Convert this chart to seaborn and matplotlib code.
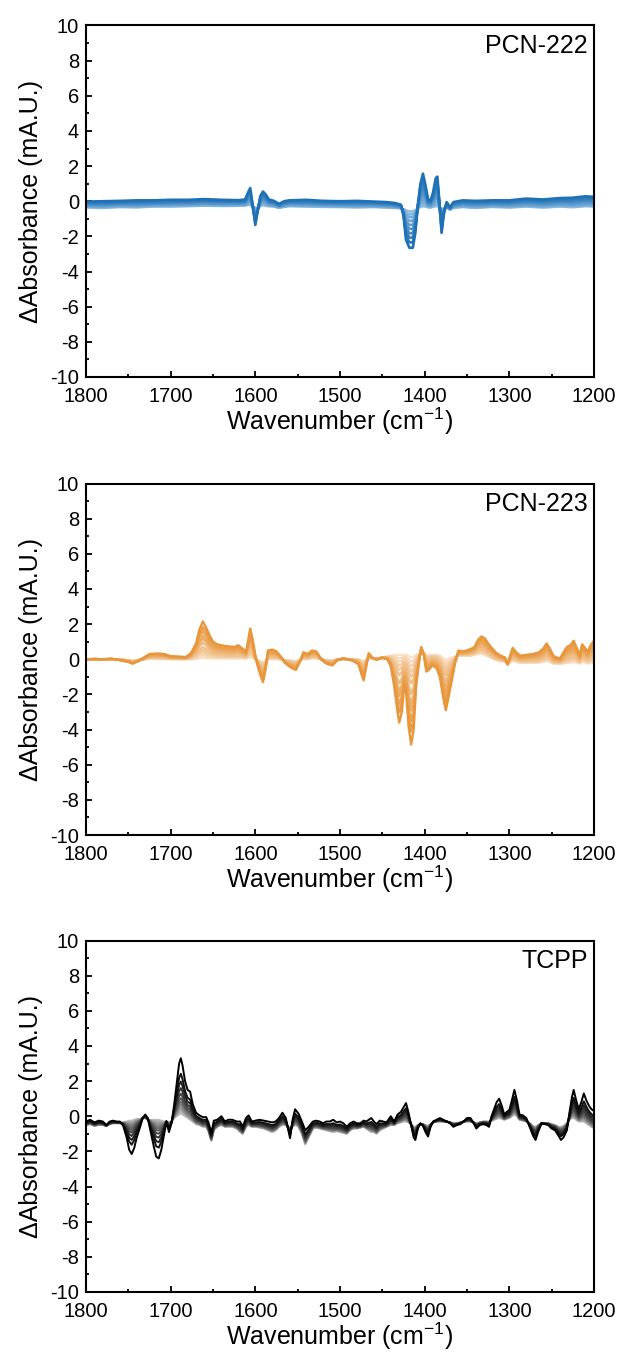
import numpy as np
import pandas as pd
import matplotlib
matplotlib.use("Agg")
import matplotlib.pyplot as plt
import seaborn as sns
from matplotlib.ticker import MultipleLocator

sns.set_theme(style="ticks")
plt.rcParams['font.family'] = ['Liberation Sans', 'DejaVu Sans']
plt.rcParams['mathtext.default'] = 'regular'
plt.rcParams['axes.unicode_minus'] = False

# ---------------- Panel 1: PCN-222 ----------------
p1_wn = [1800, 1780, 1760, 1740, 1720, 1700, 1680, 1660, 1640, 1620,
         1612, 1609, 1606, 1603, 1600, 1597, 1594, 1591, 1588, 1584,
         1578, 1572, 1566, 1560, 1540, 1520, 1500, 1480, 1460, 1445,
         1435, 1428, 1425, 1422, 1418, 1414, 1411, 1408, 1405, 1402,
         1399, 1396, 1393, 1390, 1387, 1385, 1383, 1380, 1377, 1374,
         1370, 1366, 1355, 1340, 1320, 1300, 1280, 1260, 1240, 1225,
         1210, 1200]
p1_dark = [-0.02, 0.00, 0.02, 0.05, 0.05, 0.08, 0.08, 0.12, 0.08, 0.06,
           0.10, 0.45, 0.75, -0.30, -1.35, -0.50, 0.30, 0.55, 0.40, 0.10,
           0.02, -0.15, 0.00, 0.05, 0.08, 0.02, 0.00, 0.02, -0.02, -0.05,
           -0.10, -0.20, -0.80, -2.20, -2.65, -2.65, -1.80, -0.20, 1.00, 1.57,
           0.90, 0.10, 0.05, 0.50, 1.30, 1.40, 0.20, -1.80, -0.60, -0.05,
           -0.35, -0.05, 0.05, 0.02, 0.05, 0.05, 0.15, 0.10, 0.18, 0.20,
           0.28, 0.25]
p1_light = [-0.35, -0.38, -0.33, -0.35, -0.30, -0.30, -0.28, -0.25, -0.27, -0.26,
            -0.25, -0.22, -0.20, -0.28, -0.38, -0.38, -0.28, -0.22, -0.25, -0.28,
            -0.30, -0.38, -0.32, -0.28, -0.30, -0.32, -0.33, -0.35, -0.33, -0.36,
            -0.38, -0.40, -0.45, -0.52, -0.58, -0.58, -0.50, -0.42, -0.32, -0.28,
            -0.30, -0.35, -0.36, -0.32, -0.28, -0.28, -0.32, -0.45, -0.40, -0.38,
            -0.48, -0.38, -0.33, -0.38, -0.32, -0.36, -0.30, -0.36, -0.30, -0.34,
            -0.28, -0.30]
p1_frac = [0.0, 0.08, 0.16, 0.26, 0.37, 0.48, 0.60, 0.72, 0.85, 1.0]

# ---------------- Panel 2: PCN-223 ----------------
p2_wn = [1800, 1790, 1780, 1770, 1760, 1750, 1745, 1738, 1730, 1725,
         1715, 1708, 1700, 1690, 1682, 1676, 1670, 1666, 1662, 1658,
         1654, 1650, 1645, 1635, 1625, 1620, 1615, 1611, 1608, 1606,
         1603, 1600, 1597, 1594, 1591, 1588, 1585, 1580, 1575, 1570,
         1565, 1560, 1555, 1552, 1548, 1543, 1538, 1533, 1528, 1522,
         1516, 1509, 1503, 1497, 1490, 1484, 1478, 1475, 1472, 1469,
         1466, 1462, 1457, 1450, 1444, 1440, 1436, 1432, 1430, 1427,
         1424, 1422, 1419, 1416, 1413, 1410, 1407, 1404, 1401, 1398,
         1395, 1391, 1386, 1382, 1378, 1375, 1372, 1368, 1364, 1360,
         1355, 1350, 1345, 1341, 1337, 1333, 1329, 1325, 1320, 1315,
         1310, 1305, 1302, 1299, 1296, 1292, 1287, 1280, 1272, 1265,
         1260, 1256, 1252, 1248, 1244, 1240, 1236, 1232, 1228, 1224,
         1220, 1217, 1214, 1210, 1207, 1204, 1200]
p2_dark = [0.00, 0.02, 0.00, 0.03, -0.05, -0.15, -0.25, -0.10, 0.15, 0.30,
           0.33, 0.30, 0.18, 0.15, 0.13, 0.35, 0.90, 1.70, 2.15, 1.80,
           1.35, 1.00, 0.85, 0.75, 0.70, 0.80, 0.60, 0.42, 1.20, 1.75,
           1.10, 0.20, -0.40, -0.90, -1.30, -0.60, 0.50, 0.55, 0.45, 0.15,
           -0.20, -0.40, -0.55, -0.60, -0.20, 0.40, 0.30, 0.50, 0.45, 0.00,
           -0.25, -0.35, -0.05, 0.05, 0.00, -0.10, -0.30, -0.80, -1.20, -0.40,
           0.35, 0.10, -0.03, 0.08, 0.00, -0.40, -1.50, -3.00, -3.60, -3.00,
           -1.50, -1.80, -3.80, -4.85, -4.00, -1.50, -0.30, 0.70, 0.30, -0.70,
           -0.60, -0.35, -0.50, -1.00, -2.20, -2.90, -2.20, -1.20, -0.20, 0.50,
           0.45, 0.50, 0.60, 0.70, 1.10, 1.30, 1.20, 0.90, 0.60, 0.35,
           0.20, 0.10, -0.30, 0.20, 0.65, 0.40, 0.20, 0.25, 0.30, 0.40,
           0.60, 0.90, 0.60, 0.20, 0.10, 0.05, 0.40, 0.70, 0.80, 1.05,
           0.60, 0.25, 0.85, 0.60, 0.45, 0.80, 1.05]
p2_light = [0.00, 0.00, 0.00, 0.00, 0.00, -0.05, -0.08, -0.05, 0.00, 0.02,
            0.02, 0.02, 0.00, 0.00, 0.00, 0.00, 0.02, 0.05, 0.08, 0.05,
            0.05, 0.05, 0.05, 0.05, 0.05, 0.05, 0.05, 0.05, 0.08, 0.10,
            0.05, 0.00, -0.05, -0.10, -0.15, -0.10, 0.00, 0.00, 0.00, 0.00,
            -0.05, -0.05, -0.08, -0.10, -0.05, 0.00, 0.00, 0.05, 0.05, 0.00,
            -0.05, -0.05, 0.00, 0.00, 0.00, 0.00, 0.00, -0.05, -0.10, 0.00,
            0.05, 0.05, 0.05, 0.10, 0.15, 0.20, 0.25, 0.25, 0.25, 0.25,
            0.25, 0.25, 0.20, 0.10, 0.15, 0.25, 0.30, 0.35, 0.30, 0.25,
            0.25, 0.25, 0.25, 0.20, 0.05, -0.05, 0.05, 0.10, 0.15, 0.20,
            0.20, 0.20, 0.20, 0.25, 0.30, 0.30, 0.25, 0.15, 0.05, -0.05,
            -0.10, -0.15, -0.20, -0.15, -0.10, -0.15, -0.20, -0.20, -0.20, -0.20,
            -0.15, -0.10, -0.15, -0.25, -0.25, -0.25, -0.25, -0.20, -0.20, -0.15,
            -0.20, -0.25, -0.15, -0.20, -0.25, -0.20, -0.20]
p2_frac = [0.0, 0.05, 0.10, 0.16, 0.22, 0.30, 0.42, 0.53, 0.61, 0.73, 0.85, 1.0]

# ---------------- Panel 3: TCPP ----------------
p3_wn = [1800, 1795, 1790, 1785, 1780, 1776, 1772, 1768, 1764, 1760,
         1756, 1752, 1749, 1746, 1743, 1740, 1736, 1733, 1730, 1727,
         1724, 1720, 1717, 1714, 1711, 1708, 1705, 1702, 1699, 1696,
         1693, 1690, 1688, 1686, 1683, 1680, 1677, 1674, 1670, 1666,
         1662, 1658, 1655, 1652, 1649, 1645, 1640, 1636, 1632, 1627,
         1622, 1618, 1615, 1611, 1608, 1604, 1600, 1595, 1590, 1585,
         1580, 1576, 1572, 1568, 1564, 1561, 1559, 1556, 1553, 1549,
         1545, 1541, 1537, 1532, 1528, 1524, 1520, 1516, 1512, 1508,
         1504, 1500, 1496, 1492, 1488, 1484, 1480, 1476, 1472, 1469,
         1466, 1463, 1460, 1457, 1453, 1449, 1445, 1440, 1436, 1432,
         1428, 1425, 1422, 1419, 1416, 1413, 1411, 1408, 1405, 1402,
         1399, 1396, 1393, 1390, 1386, 1382, 1378, 1374, 1370, 1366,
         1362, 1358, 1354, 1350, 1346, 1342, 1339, 1335, 1331, 1327,
         1324, 1321, 1318, 1315, 1312, 1309, 1306, 1303, 1300, 1297,
         1294, 1291, 1288, 1284, 1280, 1276, 1272, 1269, 1266, 1262,
         1258, 1254, 1250, 1246, 1242, 1239, 1236, 1232, 1229, 1226,
         1224, 1221, 1218, 1215, 1212, 1209, 1206, 1203, 1200]
p3_dark = [-0.30, -0.20, -0.35, -0.25, -0.30, -0.50, -0.30, -0.25, -0.30, -0.30,
           -0.55, -1.20, -1.90, -2.15, -1.80, -1.20, -0.60, -0.10, 0.10, -0.10,
           -0.80, -1.70, -2.30, -2.40, -1.90, -1.10, -0.30, -0.90, -0.40, 0.60,
           1.80, 3.00, 3.30, 2.90, 2.00, 1.50, 1.40, 0.70, 0.20, 0.05,
           -0.05, -0.05, -0.40, -0.95, -0.25, -0.20, 0.00, -0.30, -0.20, -0.20,
           -0.30, -0.30, -0.60, -0.10, 0.05, -0.30, -0.25, -0.20, -0.25, -0.30,
           -0.35, -0.30, -0.10, 0.20, -0.10, -0.80, -1.25, -0.20, 0.40, 0.15,
           -0.30, -0.80, -0.60, -0.30, -0.25, -0.30, -0.40, -0.30, -0.30, -0.20,
           -0.35, -0.30, -0.40, -0.60, -0.40, -0.30, -0.40, -0.40, -0.25, -0.30,
           -0.20, -0.10, -0.30, -0.45, -0.25, -0.30, -0.35, 0.00, -0.30, 0.10,
           0.25, 0.50, 0.75, 0.20, -0.50, -1.20, -1.35, -0.70, -0.40, -0.55,
           -0.90, -1.15, -0.60, -0.30, -0.20, -0.10, -0.20, -0.30, -0.40, -0.60,
           -0.50, -0.45, -0.30, -0.10, -0.10, -0.40, -0.70, -0.50, -0.45, -0.50,
           -0.60, 0.00, 0.40, 0.80, 1.00, 0.60, 0.10, 0.25, 0.35, 0.90,
           1.50, 0.90, 0.10, 0.05, -0.10, -0.60, -1.10, -1.35, -0.90, -0.40,
           -0.45, -0.50, -0.70, -0.80, -1.10, -1.35, -1.20, -0.80, 0.20, 1.10,
           1.50, 0.90, 0.40, 0.80, 1.30, 0.90, 0.60, 0.40, 0.30]
p3_light = [-0.50, -0.45, -0.55, -0.50, -0.50, -0.55, -0.45, -0.40, -0.40, -0.40,
            -0.35, -0.30, -0.25, -0.25, -0.20, -0.15, -0.15, -0.10, -0.10, -0.20,
            -0.20, -0.20, -0.20, -0.20, -0.25, -0.30, -0.30, -0.35, -0.30, -0.10,
            0.00, 0.10, 0.15, 0.10, 0.00, -0.10, -0.20, -0.30, -0.45, -0.50,
            -0.60, -0.60, -0.90, -1.40, -0.80, -0.60, -0.50, -0.60, -0.60, -0.60,
            -0.70, -0.90, -1.00, -0.60, -0.50, -0.60, -0.60, -0.65, -0.70, -0.80,
            -0.90, -0.80, -0.60, -0.50, -0.50, -0.60, -0.70, -0.60, -0.50, -0.60,
            -1.00, -1.60, -1.20, -0.70, -0.65, -0.70, -0.75, -0.80, -0.85, -0.90,
            -0.85, -0.90, -0.95, -1.00, -0.80, -0.70, -0.70, -0.65, -0.60, -0.70,
            -0.80, -0.90, -0.90, -1.00, -0.80, -0.70, -0.60, -0.50, -0.50, -0.40,
            -0.35, -0.30, -0.30, -0.35, -0.45, -0.60, -0.60, -0.50, -0.45, -0.45,
            -0.50, -0.55, -0.45, -0.35, -0.30, -0.30, -0.30, -0.30, -0.35, -0.40,
            -0.40, -0.35, -0.30, -0.30, -0.30, -0.35, -0.40, -0.35, -0.30, -0.30,
            -0.30, -0.25, -0.20, -0.15, -0.10, -0.15, -0.20, -0.15, -0.10, 0.00,
            0.10, 0.00, -0.20, -0.25, -0.30, -0.40, -0.55, -0.60, -0.50, -0.40,
            -0.40, -0.40, -0.45, -0.50, -0.60, -0.60, -0.55, -0.40, -0.20, -0.10,
            -0.10, -0.20, -0.30, -0.30, -0.30, -0.40, -0.50, -0.60, -0.70]
p3_frac = [0.0, 0.04, 0.08, 0.12, 0.17, 0.22, 0.28, 0.36, 0.46, 0.58, 0.72, 1.0]

panel_names = ["PCN-222", "PCN-223", "TCPP"]
x_ticks = [1800, 1700, 1600, 1500, 1400, 1300, 1200]
y_ticks = [-10, -8, -6, -4, -2, 0, 2, 4, 6, 8, 10]

panels = [
    (p1_wn, p1_light, p1_dark, p1_frac, ("#8fbde2", "#1f71b6"), 1.9),
    (p2_wn, p2_light, p2_dark, p2_frac, ("#f8e2cb", "#e8963b"), 1.7),
    (p3_wn, p3_light, p3_dark, p3_frac, ("#bdbdbd", "#000000"), 1.4),
]

fig = plt.figure(figsize=(6.24, 13.56), dpi=100)
bottoms = [0.7220, 0.3842, 0.0472]

for i, (wn, light, dark, fracs, cols, lw) in enumerate(panels):
    assert len(wn) == len(light) == len(dark)
    ax = fig.add_axes([0.1378, bottoms[i], 0.8141, 0.2592])
    wn_a = np.array(wn, float)
    lo = np.array(light, float)
    hi = np.array(dark, float)
    frames = []
    for k, f in enumerate(fracs):
        frames.append(pd.DataFrame({"wn": wn_a, "absb": lo + f * (hi - lo), "curve": k}))
    df = pd.concat(frames, ignore_index=True)
    pal = sns.blend_palette(list(cols), n_colors=len(fracs))
    sns.lineplot(data=df, x="wn", y="absb", hue="curve", palette=pal,
                 estimator=None, sort=False, legend=False, linewidth=lw, ax=ax)
    ax.set_xlim(1800, 1200)
    ax.set_ylim(-10, 10)
    ax.set_xticks(x_ticks)
    ax.set_yticks(y_ticks)
    ax.xaxis.set_minor_locator(MultipleLocator(50))
    ax.yaxis.set_minor_locator(MultipleLocator(1))
    ax.tick_params(which="both", direction="in", top=False, right=False,
                   width=1.3, colors="black", labelsize=14.5)
    ax.tick_params(which="major", length=4)
    ax.tick_params(which="minor", length=2.5)
    ax.tick_params(axis="x", pad=7)
    ax.tick_params(axis="y", pad=5)
    for s in ax.spines.values():
        s.set_linewidth(1.5)
        s.set_color("black")
        s.set_visible(True)
    ax.set_xlabel("Wavenumber (cm$^{-1}$)", fontsize=18, labelpad=0, color="black")
    ax.set_ylabel("\u0394Absorbance (mA.U.)", fontsize=18, labelpad=5, color="black")
    ax.text(0.988, 0.975, panel_names[i], transform=ax.transAxes, ha="right",
            va="top", fontsize=18, color="black")
    ax.set_facecolor("white")

fig.patch.set_facecolor("white")
fig.savefig("out.png", dpi=100, facecolor="white")
